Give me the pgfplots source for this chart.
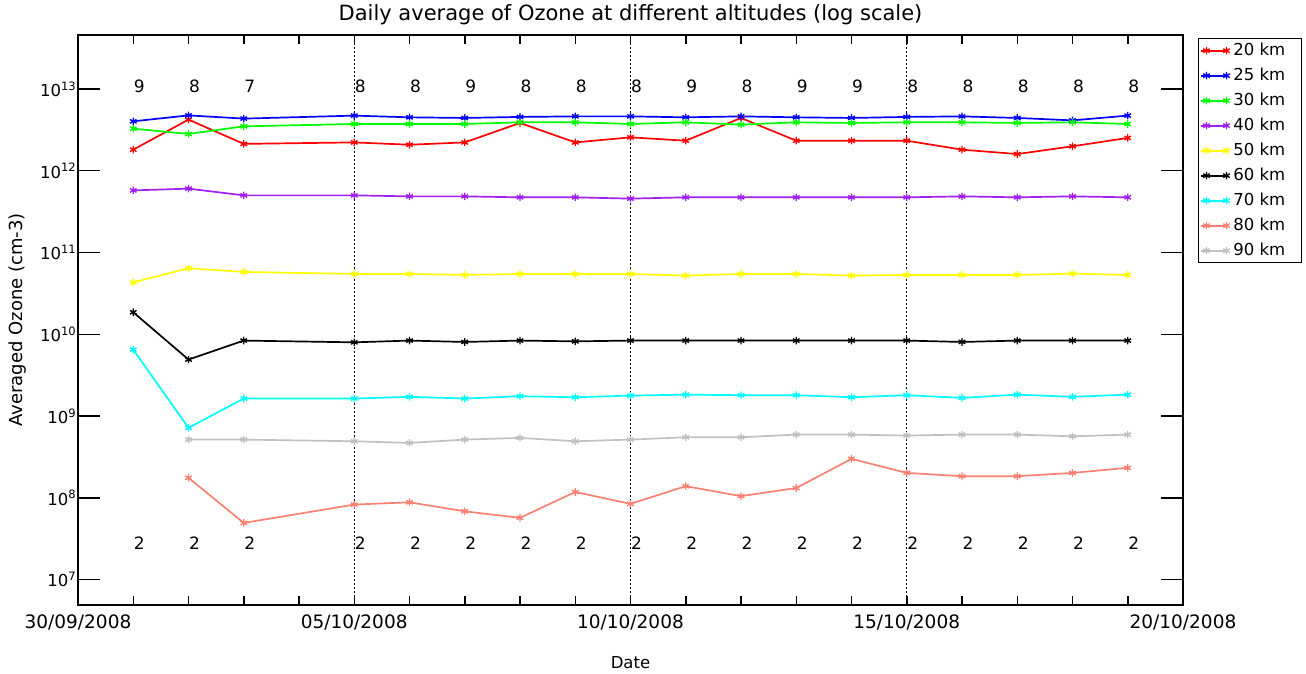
\documentclass[border=0pt]{standalone}
\usepackage{pgfplots}
\usepackage{pgfplotstable}
\pgfplotsset{compat=1.18}
\usepackage{fontspec}
\setmainfont{DejaVu Sans}

\definecolor{cred}{RGB}{255,0,0}
\definecolor{cblue}{RGB}{0,0,255}
\definecolor{cgreen}{RGB}{0,255,0}
\definecolor{cpurple}{RGB}{160,32,240}
\definecolor{cyellow}{RGB}{255,255,0}
\definecolor{ccyan}{RGB}{0,255,255}
\definecolor{csalmon}{RGB}{250,128,114}
\definecolor{cgray}{RGB}{192,192,192}

\pgfplotstableread{
day a20     a25     a30     a40     a50     a60     a70     a80     a90     ntop ytop  nbot ybot
1   1.81e12 4.02e12 3.27e12 5.75e11 4.32e10 1.86e10 6.50e9  nan     nan     9 9.0e12 2 2.33e7
2   4.22e12 4.75e12 2.82e12 6.04e11 6.41e10 4.91e9  7.18e8  1.76e8  5.16e8  8 9.0e12 2 2.33e7
3   2.13e12 4.34e12 3.49e12 5.00e11 5.79e10 8.38e9  1.64e9  4.94e7  5.16e8  7 9.0e12 2 2.33e7
5   2.22e12 4.72e12 3.73e12 5.00e11 5.47e10 7.98e9  1.64e9  8.28e7  4.92e8  8 9.0e12 2 2.33e7
6   2.08e12 4.50e12 3.73e12 4.86e11 5.47e10 8.38e9  1.72e9  8.83e7  4.70e8  8 9.0e12 2 2.33e7
7   2.22e12 4.42e12 3.73e12 4.86e11 5.32e10 8.06e9  1.64e9  6.85e7  5.16e8  9 9.0e12 2 2.33e7
8   3.84e12 4.55e12 3.91e12 4.73e11 5.47e10 8.38e9  1.75e9  5.70e7  5.41e8  8 9.0e12 2 2.33e7
9   2.22e12 4.62e12 3.91e12 4.73e11 5.47e10 8.20e9  1.70e9  1.18e8  4.92e8  8 9.0e12 2 2.33e7
10  2.56e12 4.62e12 3.73e12 4.56e11 5.47e10 8.38e9  1.78e9  8.45e7  5.16e8  8 9.0e12 2 2.33e7
11  2.33e12 4.50e12 3.91e12 4.73e11 5.22e10 8.38e9  1.83e9  1.39e8  5.51e8  9 9.0e12 2 2.33e7
12  4.42e12 4.62e12 3.66e12 4.73e11 5.47e10 8.38e9  1.80e9  1.05e8  5.51e8  8 9.0e12 2 2.33e7
13  2.33e12 4.50e12 3.91e12 4.73e11 5.47e10 8.38e9  1.80e9  1.32e8  5.94e8  9 9.0e12 2 2.33e7
14  2.33e12 4.42e12 3.84e12 4.73e11 5.22e10 8.38e9  1.70e9  3.00e8  5.94e8  9 9.0e12 2 2.33e7
15  2.33e12 4.55e12 3.91e12 4.73e11 5.32e10 8.38e9  1.80e9  2.02e8  5.78e8  8 9.0e12 2 2.33e7
16  1.81e12 4.62e12 3.91e12 4.86e11 5.32e10 8.06e9  1.67e9  1.84e8  5.94e8  8 9.0e12 2 2.33e7
17  1.60e12 4.42e12 3.84e12 4.73e11 5.32e10 8.38e9  1.83e9  1.84e8  5.94e8  8 9.0e12 2 2.33e7
18  1.99e12 4.13e12 3.91e12 4.86e11 5.52e10 8.38e9  1.72e9  2.02e8  5.66e8  8 9.0e12 2 2.33e7
19  2.52e12 4.72e12 3.73e12 4.73e11 5.32e10 8.38e9  1.83e9  2.33e8  5.94e8  8 9.0e12 2 2.33e7
}\ozone

\begin{document}
\begin{tikzpicture}
\useasboundingbox (0,0) rectangle (1306bp,674bp);
\begin{axis}[
  at={(78bp,69bp)}, anchor=south west,
  width=1105bp, height=570bp, scale only axis,
  xmin=0, xmax=20,
  ymode=log, ymin=4.9e6, ymax=4.57e13,
  axis line style={line width=1.5bp},
  xtick=\empty,
  extra x ticks={0,5,10,15,20},
  extra x tick labels={30/09/2008,05/10/2008,10/10/2008,15/10/2008,20/10/2008},
  extra x tick style={grid=major},
  major x grid style={black, line width=1.4bp, dash pattern=on 1.5bp off 2.5bp},
  ytick=\empty,
  extra y ticks={1e7,1e8,1e9,1e10,1e11,1e12,1e13},
  extra y tick labels={10\textsuperscript{7},10\textsuperscript{8},10\textsuperscript{9},10\textsuperscript{10},10\textsuperscript{11},10\textsuperscript{12},10\textsuperscript{13}},
  extra y tick style={major tick length=22bp},
  yminorticks=false, xminorticks=false,
  tick align=inside, tick pos=both,
  major tick length=9bp,
  every tick/.style={black, line width=1.5bp},
  xticklabel style={font=\fontsize{18.5bp}{21bp}\selectfont, yshift=-6bp},
  yticklabel style={font=\fontsize{16.5bp}{20bp}\selectfont, inner sep=1.5bp},
  title={Daily average of Ozone at different altitudes (log scale)},
  title style={at={(0.5,1)}, anchor=base, yshift=9bp, font=\fontsize{21bp}{24bp}\selectfont},
  xlabel={Date},
  every axis x label/.style={at={(axis description cs:0.5,0)}, anchor=center, yshift=-58bp, font=\fontsize{16.5bp}{20bp}\selectfont},
  ylabel={Averaged Ozone (cm-3)},
  every axis y label/.style={at={(axis description cs:-0.0543,0.5)}, rotate=90, anchor=center, font=\fontsize{18bp}{20bp}\selectfont},
  every axis plot/.append style={line width=1.7bp, mark=asterisk, mark size=3.8bp, mark options={solid, line width=1.4bp}},
  legend style={at={(axis description cs:1.0136,0.9947)}, anchor=north west, draw=black, line width=1.3bp,
    font=\fontsize{16.5bp}{20bp}\selectfont, inner xsep=1bp, inner ysep=3.5bp, row sep=8bp, column sep=2bp,
    nodes={inner sep=1.5bp, text height=12bp, text depth=2bp}},
  legend cell align=left,
  legend image code/.code={
    \draw[#1, mark=none] (-6bp,0bp) -- (0bp,0bp);
    \draw[#1] plot coordinates {(0bp,0bp) (20bp,0bp)};
  },
]
\addplot[cred]    table[x=day, y=a20] {\ozone};
\addplot[cblue]   table[x=day, y=a25] {\ozone};
\addplot[cgreen]  table[x=day, y=a30] {\ozone};
\addplot[cpurple] table[x=day, y=a40] {\ozone};
\addplot[cyellow] table[x=day, y=a50] {\ozone};
\addplot[black]   table[x=day, y=a60] {\ozone};
\addplot[ccyan]   table[x=day, y=a70] {\ozone};
\addplot[csalmon] table[x=day, y=a80] {\ozone};
\addplot[cgray]   table[x=day, y=a90] {\ozone};
\legend{20 km\hspace*{14bp},25 km,30 km,40 km,50 km,60 km,70 km,80 km,90 km}
\addplot[forget plot, draw=none, mark=none, nodes near coords, point meta=explicit symbolic,
  nodes near coords style={anchor=base west, inner sep=0pt, font=\fontsize{17bp}{20bp}\selectfont, black}]
  table[x=day, y=ytop, meta=ntop] {\ozone};
\addplot[forget plot, draw=none, mark=none, nodes near coords, point meta=explicit symbolic,
  nodes near coords style={anchor=base west, inner sep=0pt, font=\fontsize{17bp}{20bp}\selectfont, black}]
  table[x=day, y=ybot, meta=nbot] {\ozone};
% day tick marks on the bottom and top axis lines
\pgfplotsinvokeforeach{1,2,3,4,6,7,8,9,11,12,13,14,16,17,18,19}{
  \draw[black, line width=1.5bp] (axis cs:#1,4.9e6) -- ++(0bp,9bp);
  \draw[black, line width=1.5bp] (axis cs:#1,4.57e13) -- ++(0bp,-9bp);
}
\end{axis}
\end{tikzpicture}
\end{document}
